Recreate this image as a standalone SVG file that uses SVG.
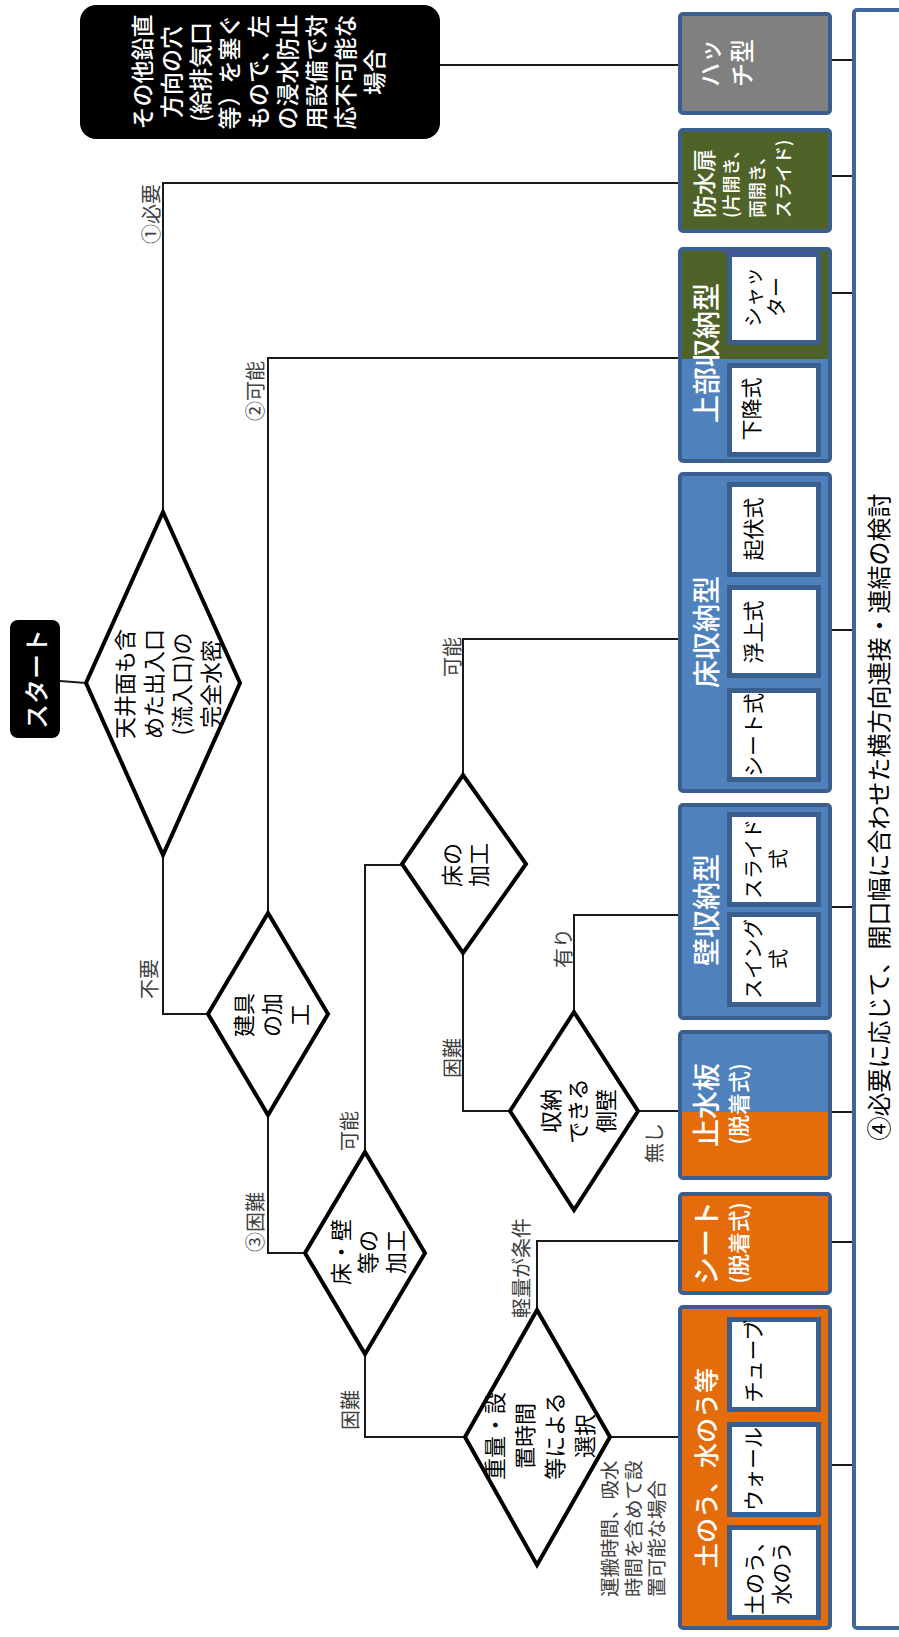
<svg xmlns="http://www.w3.org/2000/svg" width="899" height="1637" viewBox="0 0 899 1637">
<defs>
<marker id="tick" markerUnits="userSpaceOnUse" markerWidth="4" markerHeight="10" viewBox="-2 -5 4 10" refX="0" refY="0" orient="auto">
<path d="M0,-3.5 L0,3.5" stroke="#1a1a1a" stroke-width="1.6"/>
</marker>
</defs>
<style>
.ln{fill:none;stroke:#1a1a1a;stroke-width:2}
.lt{fill:none;stroke:#1a1a1a;stroke-width:2;marker-end:url(#tick)}
.lk{fill:none;stroke:#1a1a1a;stroke-width:2;marker-start:url(#tick);marker-end:url(#tick)}
.dm{fill:#fff;stroke:#000;stroke-width:4;stroke-linejoin:miter}
.bx{stroke:#3A5F8F;stroke-width:4}
.in{fill:#fff;stroke:#3A5F8F;stroke-width:5}
.t{font-family:"Noto Sans CJK JP","Noto Sans",sans-serif;dominant-baseline:central;text-anchor:middle}
.w{fill:#fff;font-weight:500}
.k{fill:#000}
.lb{font-size:20px;fill:#404040}
.f28{font-size:28px}
.f22{font-size:22px}
.f21{font-size:21px}
.f20{font-size:20px}
</style>
<rect width="899" height="1637" fill="#fff"/>

<g id="connectors">
<path class="ln" d="M60,681 L86,683"/>
<path class="lt" d="M163,512 L163,183 L680,183"/>
<path class="lt" d="M440,65 L680,65"/>
<path class="ln" d="M163,855 L163,1014 L208,1014"/>
<path class="lt" d="M268,913 L268,358 L680,358"/>
<path class="ln" d="M268,1115 L268,1253 L305,1253"/>
<path class="ln" d="M365,1152 L365,865 L402,865"/>
<path class="ln" d="M365,1354 L365,1437 L465,1437"/>
<path class="lt" d="M463,775 L463,639 L680,639"/>
<path class="ln" d="M463,953 L463,1111 L510,1111"/>
<path class="lt" d="M574,1012 L574,915 L680,915"/>
<path class="lt" d="M638,1111 L680,1111"/>
<path class="lt" d="M537,1310 L537,1241 L680,1241"/>
<path class="lt" d="M610,1437 L680,1437"/>
<path class="lk" d="M831,60 L853,60"/>
<path class="lk" d="M831,176 L853,176"/>
<path class="lk" d="M831,293 L853,293"/>
<path class="lk" d="M831,630 L853,630"/>
<path class="lk" d="M831,907 L853,907"/>
<path class="lk" d="M831,1112 L853,1112"/>
<path class="lk" d="M831,1242 L853,1242"/>
<path class="lk" d="M831,1465 L853,1465"/>
<g class="t lb">
<text transform="translate(150,214) rotate(-90)">①必要</text>
<text transform="translate(254,391) rotate(-90)">②可能</text>
<text transform="translate(148,979) rotate(-90)">不要</text>
<text transform="translate(254,1222) rotate(-90)">③困難</text>
<text transform="translate(348,1131) rotate(-90)">可能</text>
<text transform="translate(349,1410) rotate(-90)">困難</text>
<text transform="translate(451,657) rotate(-90)">可能</text>
<text transform="translate(451,1058) rotate(-90)">困難</text>
<text transform="translate(562,948) rotate(-90)">有り</text>
<text transform="translate(653,1143) rotate(-90)">無し</text>
<text transform="translate(520,1268) rotate(-90)">軽量が条件</text>
<text transform="translate(608,1597) rotate(-90)" style="text-anchor:start;font-size:19.5px"><tspan x="0" y="0">運搬時間、吸水</tspan><tspan x="0" y="23.5">時間を含めて設</tspan><tspan x="0" y="47">置可能な場合</tspan></text>
</g>
</g>

<g id="start">
<rect x="10" y="620" width="50" height="118" rx="8" fill="#000"/>
<text class="t w" style="font-size:25px" transform="translate(35,679) rotate(-90)">スタート</text>
</g>

<g id="note-other">
<rect x="80" y="5" width="360" height="134" rx="16" fill="#000"/>
<text class="t w" style="font-size:23px" transform="translate(257,72) rotate(-90)"><tspan x="0" y="-116">その他鉛直</tspan><tspan x="0" y="-87">方向の穴</tspan><tspan x="0" y="-58">(給排気口</tspan><tspan x="0" y="-29">等）を塞ぐ</tspan><tspan x="0" y="0">もので、左</tspan><tspan x="0" y="29">の浸水防止</tspan><tspan x="0" y="58">用設備で対</tspan><tspan x="0" y="87">応不可能な</tspan><tspan x="0" y="116">場合</tspan></text>
</g>

<g id="d-watertight">
<polygon class="dm" points="163,512 240,683 163,855 86,683"/>
<text class="t k f22" transform="translate(166,684) rotate(-90)"><tspan x="0" y="-43">天井面も含</tspan><tspan x="0" y="-14">めた出入口</tspan><tspan x="0" y="14">(流入口)の</tspan><tspan x="0" y="43">完全水密</tspan></text>
</g>

<g id="d-fitting">
<polygon class="dm" points="268,913 328,1014 268,1115 208,1014"/>
<text class="t k f22" transform="translate(270,1015) rotate(-90)"><tspan x="0" y="-28">建具</tspan><tspan x="0" y="0">の加</tspan><tspan x="0" y="28">工</tspan></text>
</g>

<g id="d-floorwall">
<polygon class="dm" points="365,1152 425,1253 365,1354 305,1253"/>
<text class="t k f22" transform="translate(366,1252) rotate(-90)"><tspan x="0" y="-27.5">床・壁</tspan><tspan x="0" y="0">等の</tspan><tspan x="0" y="27.5">加工</tspan></text>
</g>

<g id="d-floor">
<polygon class="dm" points="463,775 526,864 463,953 402,864"/>
<text class="t k f22" transform="translate(463,865) rotate(-90)"><tspan x="0" y="-13.5">床の</tspan><tspan x="0" y="13.5">加工</tspan></text>
</g>

<g id="d-sidewall">
<polygon class="dm" points="574,1012 638,1111 574,1210 510,1111"/>
<text class="t k f22" transform="translate(576,1111) rotate(-90)"><tspan x="0" y="-27.5">収納</tspan><tspan x="0" y="0">できる</tspan><tspan x="0" y="27.5">側壁</tspan></text>
</g>

<g id="d-weight">
<polygon class="dm" points="537,1310 610,1437 537,1565 465,1437"/>
<text class="t k f22" transform="translate(538,1436) rotate(-90)"><tspan x="0" y="-45">重量・設</tspan><tspan x="0" y="-15">置時間</tspan><tspan x="0" y="15">等による</tspan><tspan x="0" y="45">選択</tspan></text>
</g>

<g id="hatch">
<rect class="bx" x="680" y="14" width="150" height="99" rx="3" fill="#808080"/>
<text class="t w" style="font-size:24px" transform="translate(724,63) rotate(-90)"><tspan x="0" y="-16">ハッ</tspan><tspan x="0" y="16">チ型</tspan></text>
</g>

<g id="door">
<rect class="bx" x="680" y="130" width="150" height="101" rx="3" fill="#4F6228"/>
<text class="t w" style="text-anchor:start;font-size:18px" transform="translate(703,218) rotate(-90)"><tspan x="0" y="0" style="font-size:23px">防水扉</tspan><tspan x="0" y="27">(片開き、</tspan><tspan x="0" y="53">両開き、</tspan><tspan x="0" y="79">スライド)</tspan></text>
</g>

<g id="upper">
<rect class="bx" x="680" y="249" width="150" height="212" rx="3" fill="#4F81BD"/>
<rect x="682" y="251" width="146" height="108" fill="#4F6228"/>
<text class="t w f28" transform="translate(705,353) rotate(-90)">上部収納型</text>
<rect class="in" x="729.5" y="254.5" width="89" height="88"/>
<text class="t k f20" transform="translate(763,297) rotate(-90)"><tspan x="0" y="-11.5">シャッ</tspan><tspan x="0" y="11.5">ター</tspan></text>
<rect class="in" x="729.5" y="365.5" width="89" height="89"/>
<text class="t k f21" transform="translate(750,409) rotate(-90)">下降式</text>
</g>

<g id="floor-type">
<rect class="bx" x="680" y="474" width="150" height="317" rx="3" fill="#4F81BD"/>
<text class="t w f28" transform="translate(705,632) rotate(-90)">床収納型</text>
<rect class="in" x="729.5" y="484.5" width="89" height="90"/>
<text class="t k f21" transform="translate(752,529) rotate(-90)">起伏式</text>
<rect class="in" x="729.5" y="587.5" width="89" height="88"/>
<text class="t k f21" transform="translate(752,632) rotate(-90)">浮上式</text>
<rect class="in" x="729.5" y="690.5" width="89" height="89"/>
<text class="t k f21" transform="translate(752,735) rotate(-90)">シート式</text>
</g>

<g id="wall-type">
<rect class="bx" x="680" y="805" width="150" height="213" rx="3" fill="#4F81BD"/>
<text class="t w f28" transform="translate(705,910) rotate(-90)">壁収納型</text>
<rect class="in" x="729.5" y="814.5" width="89" height="90"/>
<text class="t k f20" transform="translate(764.5,859) rotate(-90)"><tspan x="0" y="-12.5">スライド</tspan><tspan x="0" y="12.5">式</tspan></text>
<rect class="in" x="729.5" y="914.5" width="89" height="90"/>
<text class="t k f20" transform="translate(764.5,959) rotate(-90)"><tspan x="0" y="-12.5">スイング</tspan><tspan x="0" y="12.5">式</tspan></text>
</g>

<g id="board">
<rect class="bx" x="680" y="1032" width="150" height="146" rx="3" fill="#4F81BD"/>
<rect x="682" y="1112" width="146" height="64" fill="#E46C0A"/>
<text class="t w f28" transform="translate(705,1105) rotate(-90)">止水板</text>
<text class="t w f22" transform="translate(737,1104) rotate(-90)">(脱着式)</text>
</g>

<g id="sheet">
<rect class="bx" x="680" y="1194" width="150" height="99" rx="3" fill="#E46C0A"/>
<text class="t w f28" transform="translate(705,1243) rotate(-90)">シート</text>
<text class="t w f22" transform="translate(737,1243) rotate(-90)">(脱着式)</text>
</g>

<g id="sandbag">
<rect class="bx" x="680" y="1307" width="150" height="321" rx="3" fill="#E46C0A"/>
<text class="t w" style="font-size:25px" transform="translate(705,1468) rotate(-90)">土のう、水のう等</text>
<rect class="in" x="729.5" y="1319.5" width="89" height="90"/>
<text class="t k f21" transform="translate(752,1361) rotate(-90)">チューブ</text>
<rect class="in" x="729.5" y="1424.5" width="89" height="90"/>
<text class="t k f21" transform="translate(752,1469) rotate(-90)">ウォール</text>
<rect class="in" x="729.5" y="1527.5" width="89" height="90"/>
<text class="t k f21" transform="translate(766.5,1573) rotate(-90)"><tspan x="0" y="-13.5">土のう、</tspan><tspan x="0" y="13.5">水のう</tspan></text>
</g>

<g id="lateral">
<rect x="854" y="10" width="80" height="1618" rx="3" fill="#fff" stroke="#41689B" stroke-width="4"/>
<text class="t k" style="font-size:24px" transform="translate(877,817) rotate(-90)">④必要に応じて、開口幅に合わせた横方向連接・連結の検討</text>
</g>
</svg>
